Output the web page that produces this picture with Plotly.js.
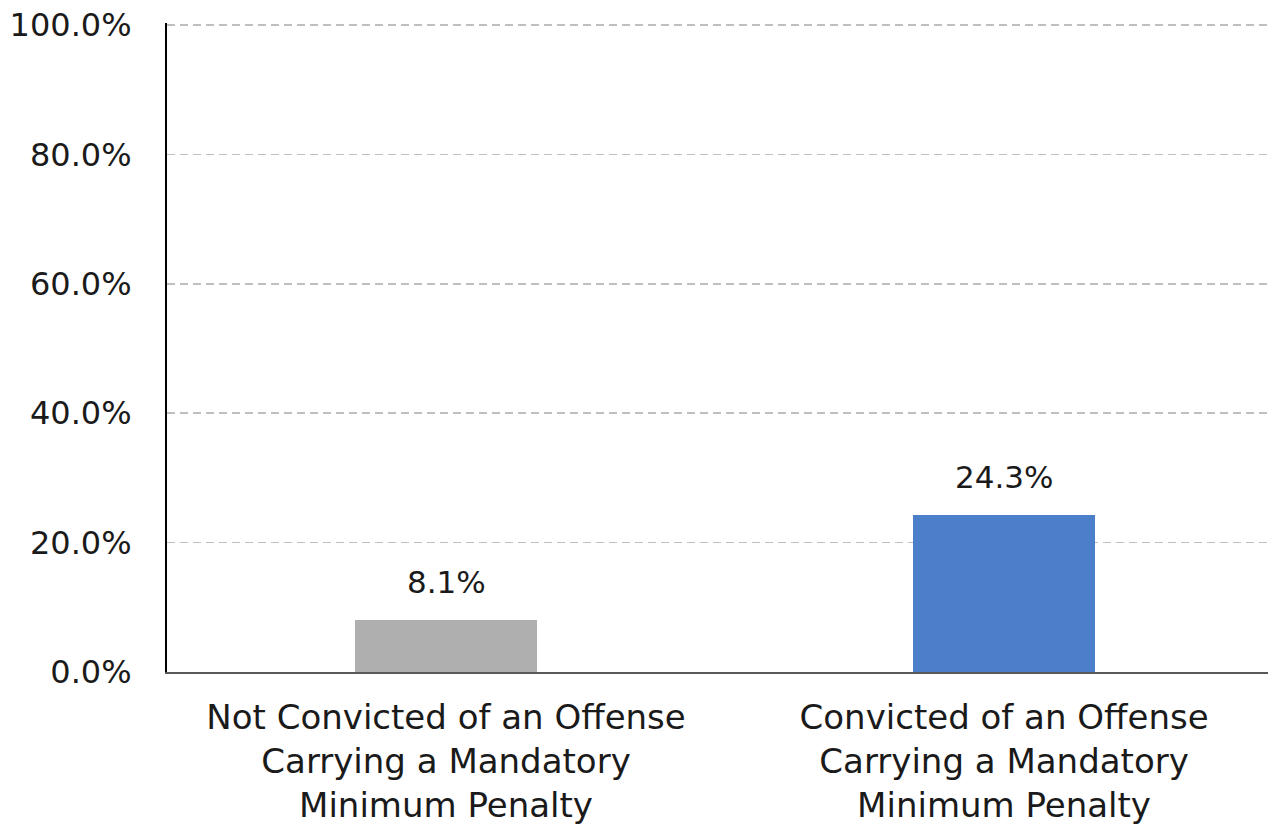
<!DOCTYPE html>
<html>
<head>
<meta charset="utf-8">
<script src="https://cdn.plot.ly/plotly-3.0.1.min.js"></script>
<style>html,body{margin:0;padding:0;background:#fff;}#chart{width:1268px;height:832px;}</style>
</head>
<body>
<div id="chart"></div>
<script>
const categories = ["Not Convicted of an Offense<br>Carrying a Mandatory<br>Minimum Penalty", "Convicted of an Offense<br>Carrying a Mandatory<br>Minimum Penalty"];
const values = [8.1, 24.3];
const barColors = ["#afafaf", "#4c7fca"];
const yTickVals = [0, 20, 40, 60, 80, 100];
const yTickText = ["0.0%", "20.0%", "40.0%", "60.0%", "80.0%", "100.0%"];

const font = "DejaVu Sans, sans-serif";
const xs = [0, 1];
Plotly.newPlot("chart", [{
  type: "bar",
  x: xs,
  y: values,
  width: 0.326,
  marker: {color: barColors},
  hoverinfo: "none"
}], {
  width: 1268, height: 832,
  margin: {l: 167, r: 0, t: 23, b: 160},
  paper_bgcolor: "#fff", plot_bgcolor: "#fff",
  showlegend: false,
  font: {family: font, size: 26, color: "#1a1a1a"},
  annotations: values.map((v, i) => ({
    x: xs[i], y: v, xref: "x", yref: "y",
    text: v.toFixed(1) + "%",
    showarrow: false, yanchor: "bottom", yshift: 18,
    font: {family: font, size: 31, color: "#1a1a1a"}
  })),
  xaxis: {
    range: [-0.5, 1.473],
    tickvals: xs,
    ticktext: categories,
    showgrid: false,
    showline: true, linecolor: "#595959", linewidth: 2,
    ticks: "",
    ticklabelstandoff: 14,
    tickfont: {family: font, size: 34, color: "#1a1a1a"},
    zeroline: false,
    fixedrange: true
  },
  yaxis: {
    range: [0, 100.3],
    tickvals: yTickVals,
    ticktext: yTickText,
    showgrid: true, gridcolor: "#bfbfbf", gridwidth: 1.5, griddash: "8px,5px",
    showline: true, linecolor: "#000", linewidth: 2,
    zeroline: false,
    ticks: "",
    ticklabelstandoff: 27,
    tickfont: {family: font, size: 32, color: "#1a1a1a"},
    fixedrange: true
  },
  bargap: 0
}, {displayModeBar: false, staticPlot: true});
</script>
</body>
</html>
